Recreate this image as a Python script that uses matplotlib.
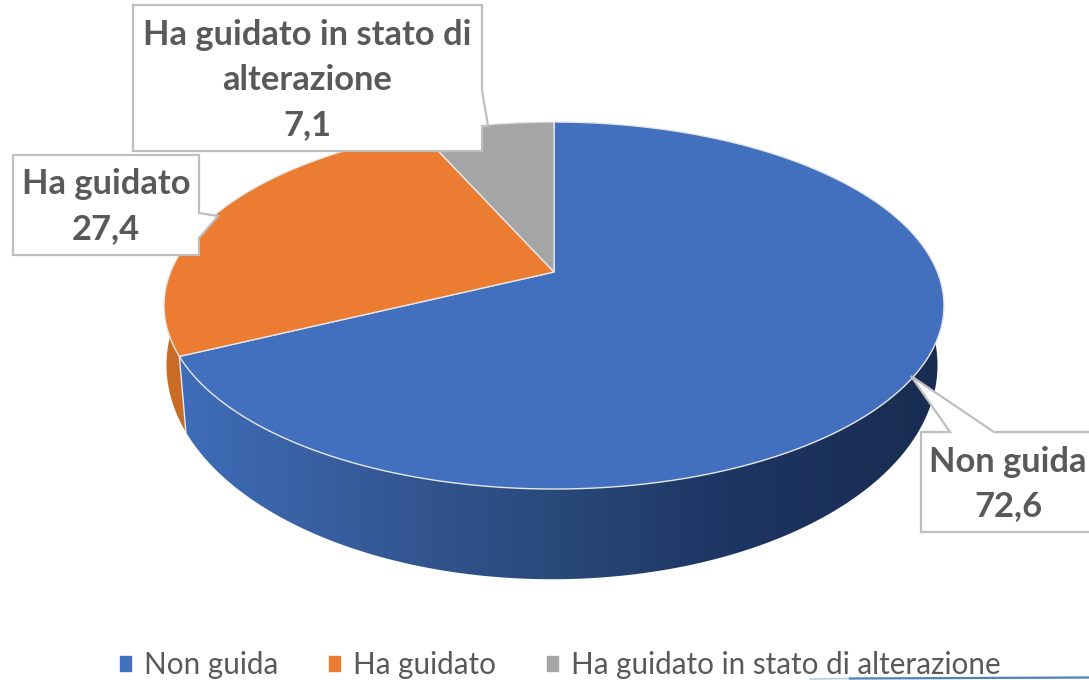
""" Share of respondents by driving behaviour, drawn as a tilted 3D pie """

import matplotlib
matplotlib.use('Agg')
import matplotlib.pyplot as plt
import numpy as np
from matplotlib.colors import LinearSegmentedColormap
from matplotlib.patches import Patch, Polygon

DPI = 100

categories = ['Non guida', 'Ha guidato', 'Ha guidato in stato di alterazione']
values = [72.6, 27.4, 7.1]
value_labels = ['72,6', '27,4', '7,1']
colors = ['#4270BF', '#EB7C31', '#A5A5A5']

plt.rcParams['font.family'] = ['Lato', 'DejaVu Sans']

# perspective of the disc, in pixels of the picture
TILT = 0.1826
TOP = (554, 383.4, 177.4, 272)
BOTTOM = (552, 379, 207, 326)


def project(deg, disc):
    """ Angle clockwise from the top of the pie to a point of the given disc """
    x_mid, width, height, y_mid = disc
    rad = np.radians(deg)
    den = 1 + TILT * np.cos(rad)
    return np.column_stack((x_mid + width * np.sin(rad) / den,
                            y_mid - height * np.cos(rad) / den))


def arc(start, end, disc):
    return project(np.linspace(start, end, 200), disc)


fig = plt.figure(figsize=(1089 / DPI, 680 / DPI), dpi=DPI)
axes = fig.add_axes([0, 0, 1, 1])
shares = np.cumsum([0] + values) / sum(values) * 360
split = shares[1]

# side walls, orange first as the blue one sits in front of it
orange_wall = np.vstack((arc(split, 300, TOP), arc(300, split - 2, BOTTOM)))
axes.add_patch(Polygon(orange_wall, facecolor='#C96A25', edgecolor='none'))

blue_wall = np.vstack((arc(split, 60, TOP), arc(60, split - 2, BOTTOM)))
clip = Polygon(blue_wall, facecolor='none', edgecolor='none')
axes.add_patch(clip)
shade = LinearSegmentedColormap.from_list('shade', [
    (0, '#3F6DB8'), (0.22, '#375C9C'), (0.5, '#284878'), (0.72, '#1D3563'),
    (1, '#182C4F')])
image = axes.imshow(np.linspace(0, 1, 256)[None, :], cmap=shade, aspect='auto',
                    extent=(180, 950, 600, 300))
image.set_clip_path(clip)
axes.plot(*np.array([project(split, TOP)[0], project(split - 2, BOTTOM)[0]]).T,
          color='#E4E8F0', linewidth=1)

# top of the pie
for color, start, end in zip(colors, shares[:-1], shares[1:]):
    points = np.vstack(([[TOP[0], TOP[3]]], arc(start, end, TOP)))
    axes.add_patch(Polygon(points, facecolor=color, edgecolor='#E6E6E6', linewidth=1))

# callouts
boxes = [
    ([(921, 432), (950, 432), (911, 376), (994, 432), (1095, 432), (1095, 532), (921, 532)],
     (1008, 484), f'{categories[0]}\n{value_labels[0]}'),
    ([(13, 155), (199, 155), (199, 213), (218, 216), (199, 238), (199, 255), (13, 255)],
     (106, 207), f'{categories[1]}\n{value_labels[1]}'),
    ([(133, 5), (482, 5), (482, 90), (488, 126), (482, 126), (482, 151), (133, 151)],
     (307, 80), f'Ha guidato in stato di\nalterazione\n{value_labels[2]}'),
]
for outline, center, label in boxes:
    axes.add_patch(Polygon(outline, facecolor='white', edgecolor='#BFBFBF', linewidth=1.6))
    axes.text(*center, label, color='#595959', fontsize=24.8, fontweight='bold',
              ha='center', va='center', linespacing=1.5)

handles = [Patch(color=color) for color in colors]
axes.legend(handles, categories, loc='center', bbox_to_anchor=(560, 665),
            bbox_transform=axes.transData, ncol=3, frameon=False, fontsize=21.3,
            labelcolor='#595959', handlelength=0.37, handleheight=0.37,
            handletextpad=0.44, columnspacing=1.72)

# stray stroke along the lower edge of the picture
axes.plot((810, 850), (679, 678.5), color='#B9CDE3', linewidth=1.2)
axes.plot((850, 1089), (678.5, 677.5), color='#4F81BD', linewidth=1.6)

axes.set_xlim(0, 1089)
axes.set_ylim(680, 0)
axes.set_axis_off()
fig.savefig('out.png', dpi=DPI)
